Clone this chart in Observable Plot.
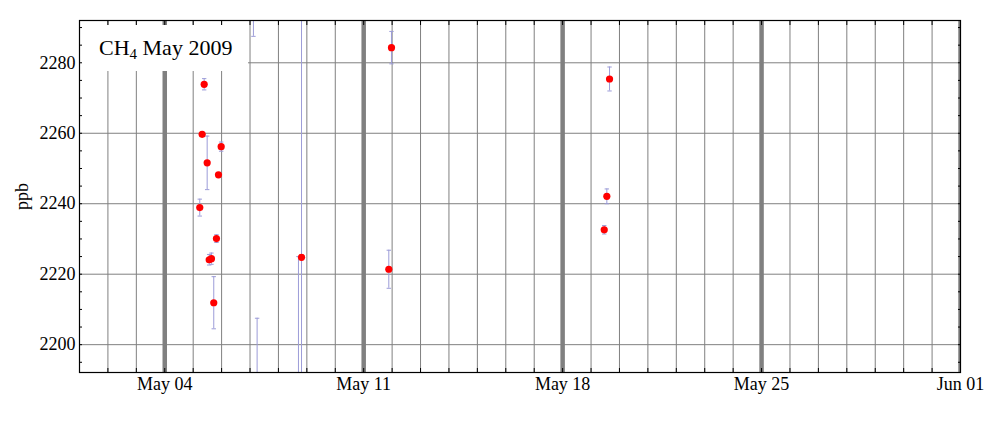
<!DOCTYPE html>
<html>
<head>
<meta charset="utf-8">
<script src="https://cdn.jsdelivr.net/npm/d3@7"></script>
<script src="https://cdn.jsdelivr.net/npm/@observablehq/plot@0.6"></script>
<style>
  html, body { margin: 0; padding: 0; background: white; }
  #chart { position: relative; width: 1000px; height: 422px; }
</style>
</head>
<body>
<div id="chart"></div>
<script>
// ---- Data ----
const times = [
  "2009-05-05T05:34Z", "2009-05-05T07:35Z", "2009-05-05T09:17Z", "2009-05-05T11:49Z",
  "2009-05-05T13:31Z", "2009-05-05T15:26Z", "2009-05-05T17:23Z", "2009-05-05T19:39Z",
  "2009-05-05T21:22Z", "2009-05-05T23:38Z",
  "2009-05-07T02:53Z", "2009-05-07T06:00Z",
  "2009-05-08T16:55Z", "2009-05-08T19:30Z",
  "2009-05-11T21:12Z", "2009-05-11T23:28Z",
  "2009-05-19T11:08Z", "2009-05-19T13:20Z", "2009-05-19T15:37Z"
];
const values = [
  2238.9, 2259.7, 2273.9, 2251.6,
  2224.1, 2224.4, 2211.9, 2230.1,
  2248.2, 2256.2,
  2330.0, 2160.0,
  2140.0, 2224.8,
  2221.4, 2284.3,
  2232.6, 2242.1, 2275.4
];
const errors = [
  2.4, 0.6, 1.6, 7.6,
  1.5, 1.6, 7.4, 1.1,
  0.6, 1.3,
  42.5, 47.5,
  85.0, 100.0,
  5.4, 4.6,
  1.2, 2.1, 3.4
];
const xDomain = ["2009-05-01T00:00Z", "2009-06-01T00:00Z"];
const yDomain = [2192.1, 2292.0];
const yMajorTicks = [2200, 2220, 2240, 2260, 2280];
const xLabelTicks = ["2009-05-04T00:00Z", "2009-05-11T00:00Z", "2009-05-18T00:00Z", "2009-05-25T00:00Z", "2009-06-01T00:00Z"];
const titleMain = "CH";
const titleSub = "4";
const titleRest = " May 2009";
const yLabel = "ppb";

// ---- Derived tables ----
const data = times.map((t, i) => ({
  date: new Date(t), value: values[i], lo: values[i] - errors[i], hi: values[i] + errors[i]
}));
const xStart = new Date(xDomain[0]), xEnd = new Date(xDomain[1]);
const dayTicks = d3.utcDay.range(xStart, d3.utcDay.offset(xEnd, 1));
const weekTicks = xLabelTicks.map(d => new Date(d));
const yMinorTicks = d3.range(2195, 2295, 5);

const gridColor = "#808080";
const errColor = "#9c9cd8";
const font = "'Liberation Serif', 'Times New Roman', serif";
const noText = () => "";

const capSymbol = {
  draw(context, size) {
    const r = Math.sqrt(size / Math.PI);
    context.moveTo(-r, 0);
    context.lineTo(r, 0);
  }
};

// title box as a custom mark (hides grid lines behind it)
function titleBox() {
  const ns = "http://www.w3.org/2000/svg";
  const g = document.createElementNS(ns, "g");
  const rect = document.createElementNS(ns, "rect");
  rect.setAttribute("x", 80); rect.setAttribute("y", 25);
  rect.setAttribute("width", 168); rect.setAttribute("height", 46);
  rect.setAttribute("fill", "white");
  g.appendChild(rect);
  const text = document.createElementNS(ns, "text");
  text.setAttribute("x", 99); text.setAttribute("y", 55);
  text.setAttribute("font-size", 22);
  text.setAttribute("font-family", font);
  text.setAttribute("text-anchor", "start");
  text.setAttribute("fill", "black");
  const t1 = document.createElementNS(ns, "tspan"); t1.textContent = titleMain;
  const t2 = document.createElementNS(ns, "tspan"); t2.textContent = titleSub;
  t2.setAttribute("font-size", 15); t2.setAttribute("dy", 4);
  const t3 = document.createElementNS(ns, "tspan"); t3.textContent = titleRest;
  t3.setAttribute("dy", -4);
  text.appendChild(t1); text.appendChild(t2); text.appendChild(t3);
  g.appendChild(text);
  return g;
}

const chart = Plot.plot({
  width: 1000,
  height: 422,
  marginLeft: 79,
  marginRight: 40,
  marginTop: 20,
  marginBottom: 50,
  style: { fontFamily: font, fontSize: "18px", background: "white", color: "black" },
  x: { type: "utc", domain: [xStart, xEnd] },
  y: { domain: yDomain },
  marks: [
    Plot.ruleX(dayTicks, { x: d => d, stroke: gridColor, strokeWidth: 1, clip: true }),
    Plot.ruleX(weekTicks, { x: d => d, stroke: gridColor, strokeWidth: 4.5, clip: true }),
    Plot.ruleY(yMajorTicks, { y: d => d, stroke: gridColor, strokeWidth: 1 }),
    Plot.ruleX(data, { x: "date", y1: "lo", y2: "hi", stroke: errColor, strokeWidth: 1, clip: true }),
    Plot.dot(data, { x: "date", y: "lo", symbol: capSymbol, r: 2.2, stroke: errColor, strokeWidth: 1, fill: "none", clip: true }),
    Plot.dot(data, { x: "date", y: "hi", symbol: capSymbol, r: 2.2, stroke: errColor, strokeWidth: 1, fill: "none", clip: true }),
    Plot.dot(data, { x: "date", y: "value", r: 3.6, fill: "#ff0000", stroke: "none", clip: true }),
    titleBox,
    // inward tick marks
    Plot.axisX({ anchor: "bottom", ticks: dayTicks, tickSize: -4, tickFormat: noText, label: null, stroke: "black" }),
    Plot.axisX({ anchor: "top", ticks: dayTicks, tickSize: -4, tickFormat: noText, label: null, stroke: "black" }),
    Plot.axisY({ anchor: "left", ticks: yMinorTicks, tickSize: -3, tickFormat: noText, label: null, stroke: "black" }),
    Plot.axisY({ anchor: "right", ticks: yMinorTicks, tickSize: -3, tickFormat: noText, label: null, stroke: "black" }),
    // labels
    Plot.axisX({ anchor: "bottom", ticks: weekTicks, tickSize: 0, tickPadding: 5,
      tickFormat: d3.utcFormat("%b %d"), label: null, fontSize: 18 }),
    Plot.axisY({ anchor: "left", ticks: yMajorTicks, tickSize: 0, tickPadding: 4,
      tickFormat: d => String(d), label: yLabel, labelAnchor: "center", labelArrow: "none", labelOffset: 64, fontSize: 18 }),
    Plot.frame({ stroke: "black", strokeWidth: 1.2 })
  ]
});
document.getElementById("chart").appendChild(chart);
</script>
</body>
</html>
